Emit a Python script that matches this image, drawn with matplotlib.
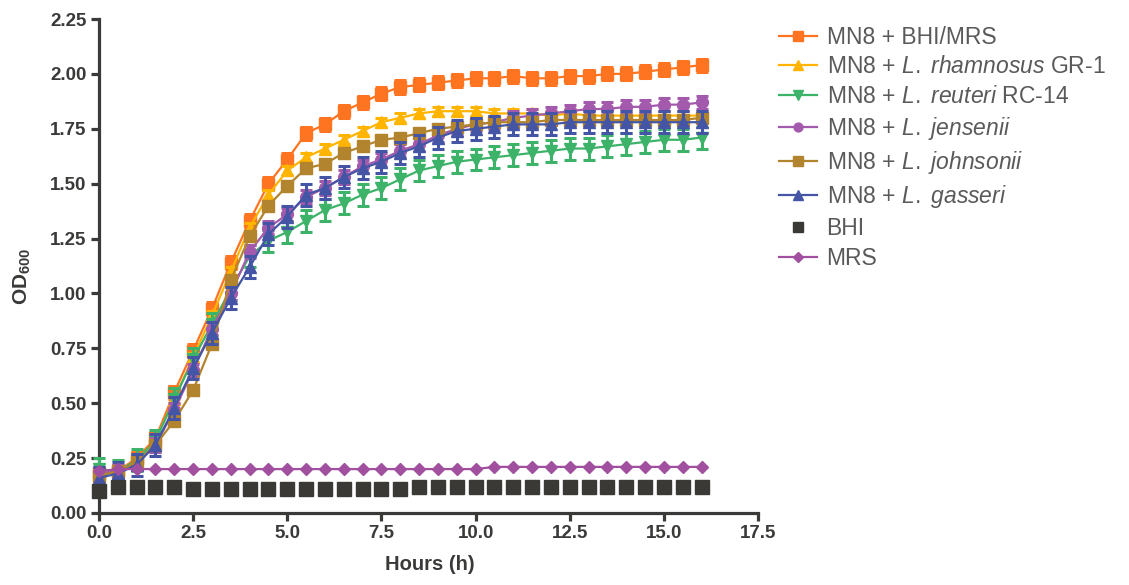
import numpy as np
import matplotlib
matplotlib.use("Agg")
import matplotlib.pyplot as plt

plt.rcParams["font.family"] = ["Liberation Sans", "DejaVu Sans"]
plt.rcParams["mathtext.fontset"] = "custom"
plt.rcParams["mathtext.rm"] = "Liberation Sans"
plt.rcParams["mathtext.it"] = "Liberation Sans:italic"
plt.rcParams["mathtext.bf"] = "Liberation Sans:bold"

hours = [i * 0.5 for i in range(33)]

bhi_mrs = [0.18, 0.19, 0.25, 0.34, 0.55, 0.74, 0.93, 1.14, 1.33, 1.50, 1.61, 1.73, 1.77,
           1.83, 1.87, 1.91, 1.94, 1.95, 1.96, 1.97, 1.98, 1.98, 1.99, 1.98, 1.98, 1.99,
           1.99, 2.00, 2.00, 2.01, 2.02, 2.03, 2.04]
rhamnosus = [0.17, 0.19, 0.24, 0.33, 0.52, 0.71, 0.90, 1.10, 1.30, 1.45, 1.56, 1.62, 1.66,
             1.70, 1.74, 1.78, 1.80, 1.82, 1.83, 1.83, 1.83, 1.82, 1.82, 1.82, 1.81, 1.82,
             1.81, 1.81, 1.81, 1.81, 1.81, 1.81, 1.81]
reuteri = [0.20, 0.19, 0.24, 0.33, 0.52, 0.70, 0.86, 1.02, 1.17, 1.24, 1.28, 1.33, 1.38,
           1.41, 1.45, 1.48, 1.52, 1.56, 1.58, 1.60, 1.61, 1.62, 1.63, 1.64, 1.65, 1.66,
           1.66, 1.67, 1.68, 1.69, 1.70, 1.70, 1.71]
jensenii = [0.18, 0.19, 0.23, 0.31, 0.47, 0.65, 0.84, 1.00, 1.19, 1.30, 1.36, 1.44, 1.48,
            1.53, 1.58, 1.61, 1.65, 1.68, 1.72, 1.75, 1.77, 1.78, 1.80, 1.81, 1.82, 1.83,
            1.84, 1.84, 1.85, 1.85, 1.86, 1.86, 1.87]
johnsonii = [0.17, 0.19, 0.23, 0.31, 0.42, 0.56, 0.77, 1.06, 1.26, 1.40, 1.49, 1.57, 1.59,
             1.64, 1.67, 1.70, 1.71, 1.73, 1.75, 1.76, 1.77, 1.78, 1.78, 1.78, 1.79, 1.79,
             1.79, 1.79, 1.79, 1.79, 1.79, 1.79, 1.80]
gasseri = [0.16, 0.18, 0.22, 0.31, 0.48, 0.66, 0.82, 0.98, 1.12, 1.27, 1.35, 1.45, 1.48,
           1.53, 1.57, 1.60, 1.64, 1.67, 1.71, 1.74, 1.75, 1.76, 1.77, 1.77, 1.77, 1.78,
           1.78, 1.78, 1.78, 1.78, 1.78, 1.78, 1.78]
bhi = [0.10, 0.12, 0.12, 0.12, 0.12, 0.11, 0.11, 0.11, 0.11, 0.11, 0.11, 0.11, 0.11,
       0.11, 0.11, 0.11, 0.11, 0.12, 0.12, 0.12, 0.12, 0.12, 0.12, 0.12, 0.12, 0.12,
       0.12, 0.12, 0.12, 0.12, 0.12, 0.12, 0.12]
mrs = [0.19, 0.20, 0.20, 0.20, 0.20, 0.20, 0.20, 0.20, 0.20, 0.20, 0.20, 0.20, 0.20,
       0.20, 0.20, 0.20, 0.20, 0.20, 0.20, 0.20, 0.20, 0.21, 0.21, 0.21, 0.21, 0.21,
       0.21, 0.21, 0.21, 0.21, 0.21, 0.21, 0.21]

# standard deviations (approximate, constant per strain)
sd_bhi_mrs = 0.03
sd_rhamnosus = 0.02
sd_reuteri = 0.05
sd_jensenii = 0.03
sd_johnsonii = 0.02
sd_gasseri = 0.05

labels = [
    "MN8 + BHI/MRS",
    r"MN8 + $\mathit{L.\ rhamnosus}$ GR-1",
    r"MN8 + $\mathit{L.\ reuteri}$ RC-14",
    r"MN8 + $\mathit{L.\ jensenii}$",
    r"MN8 + $\mathit{L.\ johnsonii}$",
    r"MN8 + $\mathit{L.\ gasseri}$",
    "BHI",
    "MRS",
]

x_ticks = [0.0, 2.5, 5.0, 7.5, 10.0, 12.5, 15.0, 17.5]
y_ticks = [0.00, 0.25, 0.50, 0.75, 1.00, 1.25, 1.50, 1.75, 2.00, 2.25]

axis_color = "#3a3a38"

fig = plt.figure(figsize=(11.29, 5.85), dpi=100)
ax = fig.add_axes([0.0877, 0.1231, 0.5837, 0.8444])

series = [
    (bhi_mrs, sd_bhi_mrs, "#ff7420", "s", 9),
    (rhamnosus, sd_rhamnosus, "#ffb400", "^", 9),
    (reuteri, sd_reuteri, "#3db36a", "v", 9),
    (jensenii, sd_jensenii, "#a35aad", "o", 8.5),
    (johnsonii, sd_johnsonii, "#b3842e", "s", 9),
    (gasseri, sd_gasseri, "#4555a5", "^", 9),
]

handles = []
for i, (vals, sd, col, mk, ms) in enumerate(series):
    eb = ax.errorbar(hours, vals, yerr=sd, color=col, marker=mk, markersize=ms,
                     linewidth=1.6, elinewidth=2.2, capsize=4.5, capthick=2.2,
                     zorder=3 + i, clip_on=False)
    handles.append(eb.lines[0])

h_bhi, = ax.plot(hours, bhi, linestyle="none", marker="s", markersize=9.5,
                 color="#3b3935", zorder=10, clip_on=False)
h_mrs, = ax.plot(hours, mrs, color="#a14f9f", marker="D", markersize=6.5,
                 linewidth=1.6, zorder=11, clip_on=False)
handles += [h_bhi, h_mrs]

ax.set_xlim(0, 17.5)
ax.set_ylim(0, 2.25)
ax.set_xticks(x_ticks)
ax.set_yticks(y_ticks)
ax.set_xticklabels([f"{v:.1f}" for v in x_ticks])
ax.set_yticklabels([f"{v:.2f}" for v in y_ticks])

for side in ("top", "right"):
    ax.spines[side].set_visible(False)
for side in ("left", "bottom"):
    ax.spines[side].set_linewidth(2.3)
    ax.spines[side].set_color(axis_color)

ax.tick_params(axis="both", direction="out", length=6, width=2.3, color=axis_color,
               labelsize=13.5, labelcolor=axis_color, pad=3)
for lab in ax.get_xticklabels() + ax.get_yticklabels():
    lab.set_fontweight("bold")

ax.set_xlabel("Hours (h)", fontsize=14.5, fontweight="bold", color=axis_color)
ax.xaxis.set_label_coords(0.502, -0.085)
ax.set_ylabel(r"$\mathbf{OD_{600}}$", fontsize=15, color=axis_color)
ax.yaxis.set_label_coords(-0.100, 0.48)

leg = fig.legend(handles, labels, loc="upper left", bbox_to_anchor=(0.682, 0.972),
                 frameon=False, fontsize=16.5, handlelength=1.65, handletextpad=0.42,
                 labelspacing=0.30, borderaxespad=0, markerscale=0.75)
for t in leg.get_texts():
    t.set_color("#5a5a5a")

fig.savefig("out.png", dpi=100, facecolor="white")
